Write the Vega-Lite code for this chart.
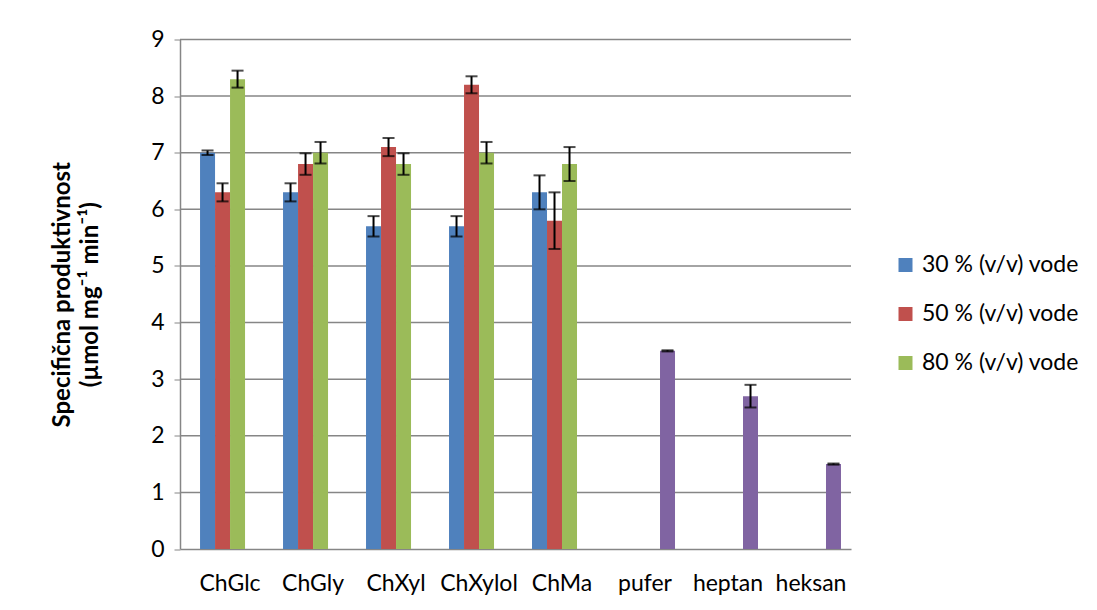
{
  "$schema": "https://vega.github.io/schema/vega-lite/v6.json",
  "autosize": {"type": "none"},
  "width": 671,
  "height": 509.5,
  "padding": {"left": 180, "top": 39.5, "right": 246, "bottom": 61},
  "background": "white",
  "config": {
    "font": "Lato",
    "view": {"stroke": null},
    "axis": {"labelFont": "Lato", "titleFont": "Lato", "labelColor": "#000000", "titleColor": "#000000"}
  },
  "data": {
    "values": [
      {"cat": "ChGlc", "s": "30 % (v/v) vode", "v": 7.0, "lo": 6.96, "hi": 7.04},
      {"cat": "ChGlc", "s": "50 % (v/v) vode", "v": 6.3, "lo": 6.14, "hi": 6.46},
      {"cat": "ChGlc", "s": "80 % (v/v) vode", "v": 8.3, "lo": 8.15, "hi": 8.45},
      {"cat": "ChGly", "s": "30 % (v/v) vode", "v": 6.3, "lo": 6.14, "hi": 6.46},
      {"cat": "ChGly", "s": "50 % (v/v) vode", "v": 6.8, "lo": 6.61, "hi": 6.99},
      {"cat": "ChGly", "s": "80 % (v/v) vode", "v": 7.0, "lo": 6.81, "hi": 7.19},
      {"cat": "ChXyl", "s": "30 % (v/v) vode", "v": 5.7, "lo": 5.52, "hi": 5.88},
      {"cat": "ChXyl", "s": "50 % (v/v) vode", "v": 7.1, "lo": 6.94, "hi": 7.26},
      {"cat": "ChXyl", "s": "80 % (v/v) vode", "v": 6.8, "lo": 6.61, "hi": 6.99},
      {"cat": "ChXylol", "s": "30 % (v/v) vode", "v": 5.7, "lo": 5.52, "hi": 5.88},
      {"cat": "ChXylol", "s": "50 % (v/v) vode", "v": 8.2, "lo": 8.05, "hi": 8.35},
      {"cat": "ChXylol", "s": "80 % (v/v) vode", "v": 7.0, "lo": 6.81, "hi": 7.19},
      {"cat": "ChMa", "s": "30 % (v/v) vode", "v": 6.3, "lo": 6.0, "hi": 6.6},
      {"cat": "ChMa", "s": "50 % (v/v) vode", "v": 5.8, "lo": 5.3, "hi": 6.3},
      {"cat": "ChMa", "s": "80 % (v/v) vode", "v": 6.8, "lo": 6.5, "hi": 7.1},
      {"cat": "pufer", "s": "otapalo", "v": 3.5, "lo": 3.49, "hi": 3.51},
      {"cat": "heptan", "s": "otapalo", "v": 2.7, "lo": 2.5, "hi": 2.9},
      {"cat": "heksan", "s": "otapalo", "v": 1.5, "lo": 1.49, "hi": 1.51}
    ]
  },
  "encoding": {
    "x": {
      "field": "cat", "type": "nominal", "sort": null,
      "scale": {"domain": ["ChGlc", "ChGly", "ChXyl", "ChXylol", "ChMa", "pufer", "heptan", "heksan"], "paddingInner": 0.277, "paddingOuter": 0.181, "align": 0.667},
      "axis": {"title": null, "labelAngle": 0, "labelFontSize": 23, "ticks": false, "labelPadding": 23, "domainColor": "#868686", "domainWidth": 1.5, "grid": false}
    },
    "xOffset": {
      "field": "s", "type": "nominal",
      "scale": {"domain": ["30 % (v/v) vode", "50 % (v/v) vode", "80 % (v/v) vode", "otapalo"], "paddingInner": 0, "paddingOuter": 0}
    }
  },
  "layer": [
    {
      "mark": {"type": "rule", "color": "#868686", "strokeWidth": 1.5},
      "data": {"values": [{"g": 1}, {"g": 2}, {"g": 3}, {"g": 4}, {"g": 5}, {"g": 6}, {"g": 7}, {"g": 8}, {"g": 9}]},
      "encoding": {"x": null, "xOffset": null, "y": {"field": "g", "type": "quantitative"}}
    },
    {
      "transform": [{"filter": "datum.s !== 'otapalo'"}],
      "mark": {"type": "bar"},
      "encoding": {
        "y": {"field": "v", "type": "quantitative", "scale": {"domain": [0, 9]},
          "axis": {"values": [0, 1, 2, 3, 4, 5, 6, 7, 8, 9], "format": "d", "grid": false, "labelFontSize": 23, "tickSize": 6, "tickColor": "#868686", "domainColor": "#868686", "domainWidth": 1.5, "labelPadding": 10,
            "title": ["Specifična produktivnost", "(µmol mg⁻¹ min⁻¹)"], "titleFontSize": 24, "titleFontWeight": "bold", "titlePadding": 48, "titleLineHeight": 28}},
        "color": {"field": "s", "type": "nominal",
          "scale": {"domain": ["30 % (v/v) vode", "50 % (v/v) vode", "80 % (v/v) vode"], "range": ["#4F81BD", "#C0504D", "#9BBB59"]},
          "legend": {"title": null, "orient": "none", "legendX": 714, "legendY": 214, "symbolType": "square", "symbolSize": 196, "symbolStrokeWidth": 0, "labelFontSize": 23, "labelFont": "Lato", "labelColor": "#000000", "rowPadding": 25, "labelOffset": 5, "padding": 0}}
      }
    },
    {
      "transform": [{"filter": "datum.s === 'otapalo'"}],
      "mark": {"type": "bar", "color": "#8064A2"},
      "encoding": {"y": {"field": "v", "type": "quantitative"}}
    },
    {
      "mark": {"type": "rule", "color": "#000000", "strokeWidth": 2},
      "encoding": {"y": {"field": "lo", "type": "quantitative"}, "y2": {"field": "hi"}}
    },
    {
      "mark": {"type": "tick", "color": "#000000", "thickness": 2, "size": 12, "orient": "horizontal"},
      "encoding": {"y": {"field": "lo", "type": "quantitative"}}
    },
    {
      "mark": {"type": "tick", "color": "#000000", "thickness": 2, "size": 12, "orient": "horizontal"},
      "encoding": {"y": {"field": "hi", "type": "quantitative"}}
    }
  ]
}
